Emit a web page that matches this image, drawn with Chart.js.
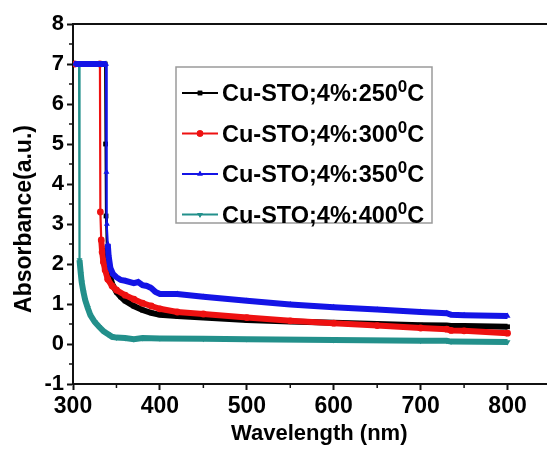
<!DOCTYPE html>
<html>
<head>
<meta charset="utf-8">
<script src="https://cdn.jsdelivr.net/npm/chart.js@4.4.1/dist/chart.umd.min.js"></script>
<style>
  html, body { margin: 0; padding: 0; background: #fff; overflow: hidden; }
  #wrap { width: 547px; height: 450px; overflow: hidden; position: relative; }
  canvas { display: block; }
</style>
</head>
<body>
<div id="wrap"><canvas id="c" width="555" height="450"></canvas></div>
<script>
// ---- data ----
const legendLabels = ["Cu-STO;4%:250", "Cu-STO;4%:300", "Cu-STO;4%:350", "Cu-STO;4%:400"];
const legendSup = "0";
const legendUnit = "C";

const wl250  = [302, 337, 337.5, 338, 339, 340, 342, 345, 350, 355, 360, 370, 380, 390, 400, 420, 450, 500, 550, 600, 650, 700, 730, 735, 750, 800];
const abs250 = [7.0, 7.0, 5.0, 3.2, 2.4, 2.0, 1.75, 1.5, 1.3, 1.18, 1.08, 0.95, 0.85, 0.78, 0.73, 0.7, 0.66, 0.6, 0.56, 0.53, 0.5, 0.47, 0.46, 0.45, 0.45, 0.43];

const wl300  = [302, 331, 331.5, 332.5, 333.5, 335, 337, 340, 345, 350, 360, 370, 380, 390, 400, 420, 450, 500, 550, 600, 650, 700, 730, 735, 750, 800];
const abs300 = [7.0, 7.0, 3.3, 2.6, 2.3, 2.05, 1.85, 1.62, 1.45, 1.35, 1.22, 1.12, 1.02, 0.95, 0.88, 0.8, 0.75, 0.66, 0.58, 0.52, 0.46, 0.4, 0.37, 0.34, 0.33, 0.27];

const wl350  = [302, 338, 338.5, 339, 340, 341, 343, 346, 350, 355, 360, 370, 375, 380, 385, 390, 395, 400, 420, 450, 500, 550, 600, 650, 700, 730, 735, 750, 800];
const abs350 = [7.0, 7.0, 4.3, 3.0, 2.5, 2.2, 1.9, 1.75, 1.67, 1.6, 1.58, 1.52, 1.55, 1.47, 1.45, 1.4, 1.3, 1.25, 1.25, 1.18, 1.08, 0.99, 0.92, 0.86, 0.8, 0.77, 0.73, 0.72, 0.7];

const wl400  = [302, 307, 307.5, 309, 310, 312, 314, 317, 320, 325, 330, 335, 340, 345, 350, 360, 370, 380, 400, 450, 500, 600, 700, 730, 735, 800];
const abs400 = [7.0, 7.0, 2.1, 1.75, 1.55, 1.3, 1.1, 0.9, 0.72, 0.55, 0.43, 0.32, 0.25, 0.18, 0.16, 0.15, 0.12, 0.15, 0.14, 0.13, 0.12, 0.1, 0.08, 0.08, 0.06, 0.05];

const xTicksMajor = [300, 400, 500, 600, 700, 800];
const xTicksMinor = [350, 450, 550, 650, 750];
const yTicksMinor = [-0.5, 0.5, 1.5, 2.5, 3.5, 4.5, 5.5, 6.5, 7.5];
const xTitle = "Wavelength (nm)";
const yTitle = "Absorbance(a.u.)";

// ---- styles ----
const colors = ["#000000", "#ee1111", "#1414e6", "#23908b"];
const markers = ["rect", "circle", "triangle", "triangle"];
const rotations = [0, 0, 0, 180];
const FONT = "'Liberation Sans', Arial, sans-serif";

function toPts(xs, ys) { return xs.map((x, i) => ({ x: x, y: ys[i] })); }

const seriesX = [wl250, wl300, wl350, wl400];
const seriesY = [abs250, abs300, abs350, abs400];
const drawOrder = [2, 1, 0, 3];

const datasets = seriesX.map((xs, i) => ({
  label: legendLabels[i],
  data: toPts(xs, seriesY[i]),
  borderColor: colors[i],
  backgroundColor: colors[i],
  pointStyle: markers[i],
  rotation: rotations[i],
  pointRadius: 3.4,
  pointBorderWidth: 0,
  borderWidth: 6,
  order: drawOrder[i],
  segment: {
    borderWidth: ctx => Math.abs(ctx.p0.parsed.y - ctx.p1.parsed.y) > 0.45 ? 2.2 : 6
  }
}));

const framePlugin = {
  id: 'frame',
  afterDraw(chart) {
    const ctx = chart.ctx;
    const a = chart.chartArea;
    const xs = chart.scales.x, ys = chart.scales.y;
    ctx.save();
    ctx.strokeStyle = '#111';
    ctx.lineWidth = 2;
    // top frame line
    ctx.beginPath();
    ctx.moveTo(a.left, a.top);
    ctx.lineTo(a.right, a.top);
    ctx.stroke();
    // minor ticks
    ctx.lineWidth = 1.5;
    xTicksMinor.forEach(v => {
      const px = xs.getPixelForValue(v);
      ctx.beginPath(); ctx.moveTo(px, a.bottom); ctx.lineTo(px, a.bottom + 4); ctx.stroke();
    });
    yTicksMinor.forEach(v => {
      const py = ys.getPixelForValue(v);
      ctx.beginPath(); ctx.moveTo(a.left, py); ctx.lineTo(a.left - 4, py); ctx.stroke();
    });
    // axis titles
    ctx.fillStyle = '#000';
    ctx.font = "bold 22px " + FONT;
    ctx.textAlign = 'center';
    ctx.textBaseline = 'alphabetic';
    ctx.fillText(xTitle, (xs.getPixelForValue(300) + xs.getPixelForValue(800)) / 2 + 29, 440);
    ctx.save();
    ctx.translate(31, ys.getPixelForValue(3.125));
    ctx.rotate(-Math.PI / 2);
    ctx.font = "bold 23px " + FONT;
    ctx.fillText(yTitle, 0, 0);
    ctx.restore();

    // legend
    const bx = 176, by = 67, bw = 256, bh = 156;
    ctx.strokeStyle = '#9a9a9a';
    ctx.lineWidth = 1.5;
    ctx.strokeRect(bx, by, bw, bh);
    legendLabels.forEach((lab, i) => {
      const cy = 93 + i * 40.5;
      ctx.strokeStyle = colors[i];
      ctx.fillStyle = colors[i];
      ctx.lineWidth = 2;
      ctx.beginPath(); ctx.moveTo(182, cy); ctx.lineTo(218, cy); ctx.stroke();
      Chart.helpers.drawPoint(ctx, { pointStyle: markers[i], rotation: rotations[i], radius: 3.2, borderWidth: 0 }, 200, cy);
      ctx.fill();
      ctx.fillStyle = '#000';
      ctx.textAlign = 'left';
      ctx.textBaseline = 'alphabetic';
      ctx.font = "bold 23.5px " + FONT;
      const tx = 222;
      const base = cy + 8;
      ctx.fillText(lab, tx, base);
      let w = ctx.measureText(lab).width;
      ctx.font = "bold 17px " + FONT;
      ctx.fillText(legendSup, tx + w, base - 9);
      w += ctx.measureText(legendSup).width;
      ctx.font = "bold 23.5px " + FONT;
      ctx.fillText(legendUnit, tx + w, base);
    });
    ctx.restore();
  }
};

new Chart(document.getElementById('c'), {
  type: 'line',
  data: { datasets: datasets },
  plugins: [framePlugin],
  options: {
    responsive: false,
    animation: false,
    layout: { padding: { top: 24, right: 0, bottom: 0, left: 0 } },
    plugins: { legend: { display: false }, tooltip: { enabled: false } },
    scales: {
      x: {
        type: 'linear',
        min: 300,
        max: 850,
        afterFit(scale) { scale.height = 66; },
        afterBuildTicks(scale) { scale.ticks = xTicksMajor.map(v => ({ value: v })); },
        border: { display: true, color: '#111', width: 2 },
        grid: { drawOnChartArea: false, drawTicks: true, tickLength: 6, tickColor: '#111', tickWidth: 2 },
        ticks: { color: '#000', padding: 3, font: { family: FONT, size: 23, weight: 'bold' }, maxRotation: 0 }
      },
      y: {
        type: 'linear',
        min: -1,
        max: 8,
        afterFit(scale) { scale.width = 73; },
        border: { display: true, color: '#111', width: 2 },
        grid: { drawOnChartArea: false, drawTicks: true, tickLength: 6, tickColor: '#111', tickWidth: 2 },
        ticks: { stepSize: 1, color: '#000', padding: 3, font: { family: FONT, size: 22, weight: 'bold' } }
      }
    }
  }
});
</script>
</body>
</html>
